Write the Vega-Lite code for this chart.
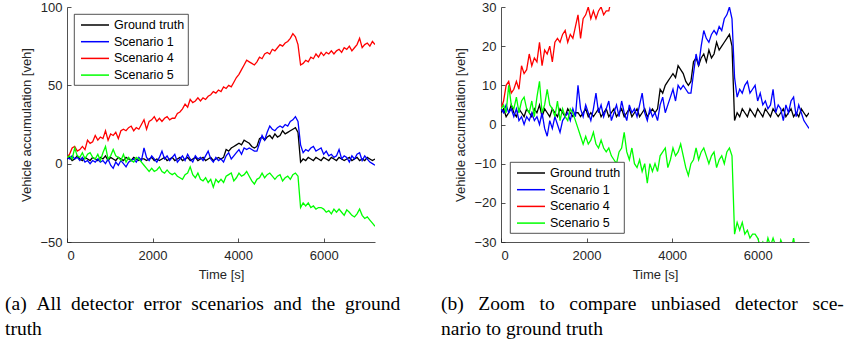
{
  "$schema": "https://vega.github.io/schema/vega-lite/v6.json",
  "padding": {"left": 5, "top": 1, "right": 5, "bottom": 5},
  "background": "white",
  "datasets": {
    "d": [
      {"t":0,"g":3,"s1":4,"s4":4,"s5":4},
      {"t":60,"g":4,"s1":3,"s4":6,"s5":5},
      {"t":120,"g":2,"s1":5,"s4":10,"s5":3},
      {"t":180,"g":3,"s1":3,"s4":11,"s5":10},
      {"t":240,"g":5,"s1":4,"s4":8,"s5":5},
      {"t":300,"g":3,"s1":2,"s4":9,"s5":4},
      {"t":360,"g":2,"s1":4,"s4":11,"s5":7},
      {"t":420,"g":4,"s1":1,"s4":9,"s5":3},
      {"t":480,"g":3,"s1":2,"s4":15,"s5":6},
      {"t":540,"g":2,"s1":0,"s4":13,"s5":7},
      {"t":600,"g":4,"s1":2,"s4":14,"s5":4},
      {"t":660,"g":3,"s1":1,"s4":18,"s5":3},
      {"t":720,"g":2,"s1":3,"s4":15,"s5":6},
      {"t":780,"g":4,"s1":1,"s4":17,"s5":2},
      {"t":840,"g":3,"s1":2,"s4":16,"s5":7},
      {"t":900,"g":5,"s1":0,"s4":21,"s5":11},
      {"t":960,"g":2,"s1":3,"s4":15,"s5":3},
      {"t":1020,"g":4,"s1":-1,"s4":19,"s5":5},
      {"t":1080,"g":3,"s1":-3,"s4":18,"s5":9},
      {"t":1140,"g":2,"s1":1,"s4":20,"s5":5},
      {"t":1200,"g":4,"s1":-1,"s4":16,"s5":4},
      {"t":1260,"g":3,"s1":2,"s4":21,"s5":2},
      {"t":1320,"g":2,"s1":0,"s4":22,"s5":6},
      {"t":1380,"g":4,"s1":-2,"s4":21,"s5":1},
      {"t":1440,"g":3,"s1":1,"s4":23,"s5":4},
      {"t":1500,"g":2,"s1":2,"s4":24,"s5":2},
      {"t":1560,"g":4,"s1":3,"s4":21,"s5":1},
      {"t":1620,"g":3,"s1":1,"s4":23,"s5":4},
      {"t":1680,"g":2,"s1":4,"s4":22,"s5":3},
      {"t":1740,"g":3,"s1":2,"s4":25,"s5":1},
      {"t":1800,"g":3,"s1":10,"s4":28,"s5":-1},
      {"t":1860,"g":2,"s1":4,"s4":22,"s5":-3},
      {"t":1920,"g":3,"s1":2,"s4":27,"s5":-5},
      {"t":1980,"g":4,"s1":5,"s4":28,"s5":-3},
      {"t":2040,"g":2,"s1":3,"s4":30,"s5":-5},
      {"t":2100,"g":3,"s1":1,"s4":27,"s5":-4},
      {"t":2160,"g":2,"s1":4,"s4":29,"s5":-2},
      {"t":2220,"g":3,"s1":8,"s4":27,"s5":-5},
      {"t":2280,"g":4,"s1":3,"s4":29,"s5":-6},
      {"t":2340,"g":2,"s1":5,"s4":30,"s5":-4},
      {"t":2400,"g":3,"s1":2,"s4":28,"s5":-6},
      {"t":2460,"g":4,"s1":4,"s4":29,"s5":-7},
      {"t":2520,"g":2,"s1":6,"s4":29,"s5":-6},
      {"t":2580,"g":3,"s1":1,"s4":32,"s5":-8},
      {"t":2640,"g":4,"s1":3,"s4":33,"s5":-9},
      {"t":2700,"g":2,"s1":5,"s4":35,"s5":-10},
      {"t":2760,"g":3,"s1":2,"s4":38,"s5":-7},
      {"t":2820,"g":4,"s1":6,"s4":36,"s5":-6},
      {"t":2880,"g":2,"s1":3,"s4":41,"s5":-2},
      {"t":2940,"g":3,"s1":1,"s4":39,"s5":-7},
      {"t":3000,"g":4,"s1":5,"s4":40,"s5":-9},
      {"t":3060,"g":2,"s1":3,"s4":42,"s5":-6},
      {"t":3120,"g":3,"s1":4,"s4":40,"s5":-10},
      {"t":3180,"g":4,"s1":2,"s4":42,"s5":-11},
      {"t":3240,"g":2,"s1":5,"s4":41,"s5":-9},
      {"t":3300,"g":3,"s1":8,"s4":43,"s5":-12},
      {"t":3360,"g":4,"s1":3,"s4":44,"s5":-10},
      {"t":3420,"g":2,"s1":1,"s4":46,"s5":-15},
      {"t":3480,"g":3,"s1":4,"s4":45,"s5":-10},
      {"t":3540,"g":4,"s1":2,"s4":47,"s5":-12},
      {"t":3600,"g":3,"s1":3,"s4":46,"s5":-10},
      {"t":3660,"g":4,"s1":1,"s4":49,"s5":-12},
      {"t":3720,"g":9,"s1":5,"s4":48,"s5":-8},
      {"t":3780,"g":8,"s1":7,"s4":50,"s5":-7},
      {"t":3840,"g":10,"s1":3,"s4":49,"s5":-6},
      {"t":3900,"g":11,"s1":5,"s4":52,"s5":-11},
      {"t":3960,"g":12,"s1":7,"s4":55,"s5":-9},
      {"t":4020,"g":13,"s1":9,"s4":57,"s5":-6},
      {"t":4080,"g":12,"s1":6,"s4":60,"s5":-8},
      {"t":4140,"g":15,"s1":10,"s4":63,"s5":-7},
      {"t":4200,"g":14,"s1":9,"s4":66,"s5":-5},
      {"t":4260,"g":13,"s1":10,"s4":65,"s5":-8},
      {"t":4320,"g":11,"s1":9,"s4":64,"s5":-11},
      {"t":4380,"g":10,"s1":8,"s4":63,"s5":-13},
      {"t":4440,"g":11,"s1":8,"s4":65,"s5":-10},
      {"t":4500,"g":16,"s1":13,"s4":68,"s5":-9},
      {"t":4560,"g":17,"s1":18,"s4":67,"s5":-6},
      {"t":4620,"g":15,"s1":15,"s4":70,"s5":-9},
      {"t":4680,"g":17,"s1":20,"s4":71,"s5":-7},
      {"t":4740,"g":18,"s1":24,"s4":70,"s5":-6},
      {"t":4800,"g":16,"s1":22,"s4":73,"s5":-8},
      {"t":4860,"g":19,"s1":21,"s4":72,"s5":-10},
      {"t":4920,"g":17,"s1":23,"s4":74,"s5":-8},
      {"t":4980,"g":18,"s1":24,"s4":76,"s5":-7},
      {"t":5040,"g":21,"s1":23,"s4":75,"s5":-11},
      {"t":5100,"g":19,"s1":25,"s4":77,"s5":-9},
      {"t":5160,"g":20,"s1":24,"s4":78,"s5":-8},
      {"t":5220,"g":21,"s1":27,"s4":80,"s5":-10},
      {"t":5280,"g":22,"s1":28,"s4":83,"s5":-7},
      {"t":5340,"g":23,"s1":30,"s4":81,"s5":-6},
      {"t":5400,"g":20,"s1":27,"s4":76,"s5":-8},
      {"t":5460,"g":1,"s1":12,"s4":63,"s5":-28},
      {"t":5520,"g":3,"s1":7,"s4":64,"s5":-25},
      {"t":5580,"g":2,"s1":9,"s4":66,"s5":-27},
      {"t":5640,"g":4,"s1":8,"s4":65,"s5":-25},
      {"t":5700,"g":3,"s1":10,"s4":68,"s5":-28},
      {"t":5760,"g":2,"s1":11,"s4":67,"s5":-27},
      {"t":5820,"g":4,"s1":8,"s4":70,"s5":-29},
      {"t":5880,"g":3,"s1":9,"s4":68,"s5":-28},
      {"t":5940,"g":2,"s1":10,"s4":71,"s5":-28},
      {"t":6000,"g":4,"s1":6,"s4":69,"s5":-29},
      {"t":6060,"g":3,"s1":8,"s4":71,"s5":-31},
      {"t":6120,"g":2,"s1":5,"s4":70,"s5":-30},
      {"t":6180,"g":4,"s1":6,"s4":72,"s5":-32},
      {"t":6240,"g":3,"s1":4,"s4":70,"s5":-29},
      {"t":6300,"g":2,"s1":5,"s4":72,"s5":-31},
      {"t":6360,"g":4,"s1":9,"s4":73,"s5":-29},
      {"t":6420,"g":3,"s1":3,"s4":71,"s5":-31},
      {"t":6480,"g":2,"s1":5,"s4":74,"s5":-33},
      {"t":6540,"g":3,"s1":4,"s4":73,"s5":-29.5},
      {"t":6600,"g":4,"s1":1,"s4":75,"s5":-31},
      {"t":6660,"g":2,"s1":5,"s4":72,"s5":-33},
      {"t":6720,"g":3,"s1":3,"s4":74,"s5":-34},
      {"t":6780,"g":4,"s1":6,"s4":76,"s5":-32},
      {"t":6840,"g":2,"s1":7,"s4":80,"s5":-29},
      {"t":6900,"g":3,"s1":2,"s4":74,"s5":-33},
      {"t":6960,"g":2,"s1":5,"s4":76,"s5":-35},
      {"t":7020,"g":4,"s1":3,"s4":77,"s5":-34},
      {"t":7080,"g":3,"s1":1,"s4":75,"s5":-36},
      {"t":7140,"g":2,"s1":0,"s4":78,"s5":-38},
      {"t":7200,"g":3,"s1":-1,"s4":76,"s5":-40}
    ]
  },
  "data": {"name": "d"},
  "transform": [{"fold": ["g", "s1", "s4", "s5"], "as": ["key", "value"]}],
  "hconcat": [
    {
      "width": 308,
      "height": 235,
      "title": {
        "text": ["(a) \u00a0All \u00a0detector \u00a0error \u00a0scenarios \u00a0and \u00a0the \u00a0ground", "truth"],
        "orient": "bottom",
        "anchor": "start",
        "frame": "group",
        "dx": -62,
        "offset": 14
      },
      "mark": {"type": "line", "strokeWidth": 1.3, "clip": true},
      "encoding": {
        "x": {"field": "t", "type": "quantitative", "scale": {"domain": [0, 7200], "nice": false}, "axis": {"title": "Time [s]", "values": [0, 2000, 4000, 6000], "format": "d"}},
        "y": {"field": "value", "type": "quantitative", "scale": {"domain": [-50, 100], "nice": false}, "axis": {"title": "Vehicle accumulation [veh]", "values": [-50, 0, 50, 100], "format": "d"}},
        "color": {
          "field": "key", "type": "nominal",
          "scale": {"domain": ["g", "s1", "s4", "s5"], "range": ["#000000", "#0000FF", "#FF0000", "#00FF00"]},
          "legend": {"orient": "top-left", "offset": 7, "labelExpr": "datum.label == 'g' ? 'Ground truth' : datum.label == 's1' ? 'Scenario 1' : datum.label == 's4' ? 'Scenario 4' : 'Scenario 5'"}
        }
      }
    },
    {
      "width": 308,
      "height": 235,
      "title": {
        "text": ["(b) \u00a0\u00a0Zoom \u00a0\u00a0to \u00a0\u00a0compare \u00a0\u00a0unbiased \u00a0\u00a0detector \u00a0\u00a0sce-", "nario to ground truth"],
        "orient": "bottom",
        "anchor": "start",
        "frame": "group",
        "dx": -60,
        "offset": 14
      },
      "mark": {"type": "line", "strokeWidth": 1.3, "clip": true},
      "encoding": {
        "x": {"field": "t", "type": "quantitative", "scale": {"domain": [0, 7200], "nice": false}, "axis": {"title": "Time [s]", "values": [0, 2000, 4000, 6000], "format": "d"}},
        "y": {"field": "value", "type": "quantitative", "scale": {"domain": [-30, 30], "nice": false}, "axis": {"title": "Vehicle accumulation [veh]", "values": [-30, -20, -10, 0, 10, 20, 30], "format": "d"}},
        "color": {
          "field": "key", "type": "nominal",
          "scale": {"domain": ["g", "s1", "s4", "s5"], "range": ["#000000", "#0000FF", "#FF0000", "#00FF00"]},
          "legend": {"orient": "bottom-left", "offset": 9, "labelExpr": "datum.label == 'g' ? 'Ground truth' : datum.label == 's1' ? 'Scenario 1' : datum.label == 's4' ? 'Scenario 4' : 'Scenario 5'"}
        }
      }
    }
  ],
  "spacing": 126,
  "bounds": "flush",
  "resolve": {"scale": {"color": "independent"}, "legend": {"color": "independent"}},
  "config": {
    "view": {"stroke": null},
    "axis": {
      "grid": false,
      "labelFont": "Liberation Sans", "labelFontSize": 13, "labelColor": "#262626",
      "titleFont": "Liberation Sans", "titleFontSize": 13, "titleFontWeight": "normal", "titleColor": "#262626",
      "domainColor": "#262626", "tickColor": "#262626", "domainWidth": 0.8, "tickWidth": 0.8,
      "tickSize": -4, "titlePadding": 6
    },
    "axisX": {"labelPadding": 11},
    "axisY": {"labelPadding": 9},
    "legend": {
      "title": null,
      "fillColor": "white", "strokeColor": "#262626", "strokeWidth": 0.8,
      "padding": 3, "rowPadding": 1.7,
      "labelFont": "Liberation Sans", "labelFontSize": 12.5, "labelColor": "#000000",
      "symbolType": "M-2,0H2", "symbolSize": 196, "symbolStrokeWidth": 1.5,
      "symbolOffset": 10, "labelOffset": 11
    },
    "title": {
      "font": "Liberation Serif", "fontSize": 19.5, "fontWeight": "normal", "color": "#000000", "lineHeight": 25
    }
  }
}
